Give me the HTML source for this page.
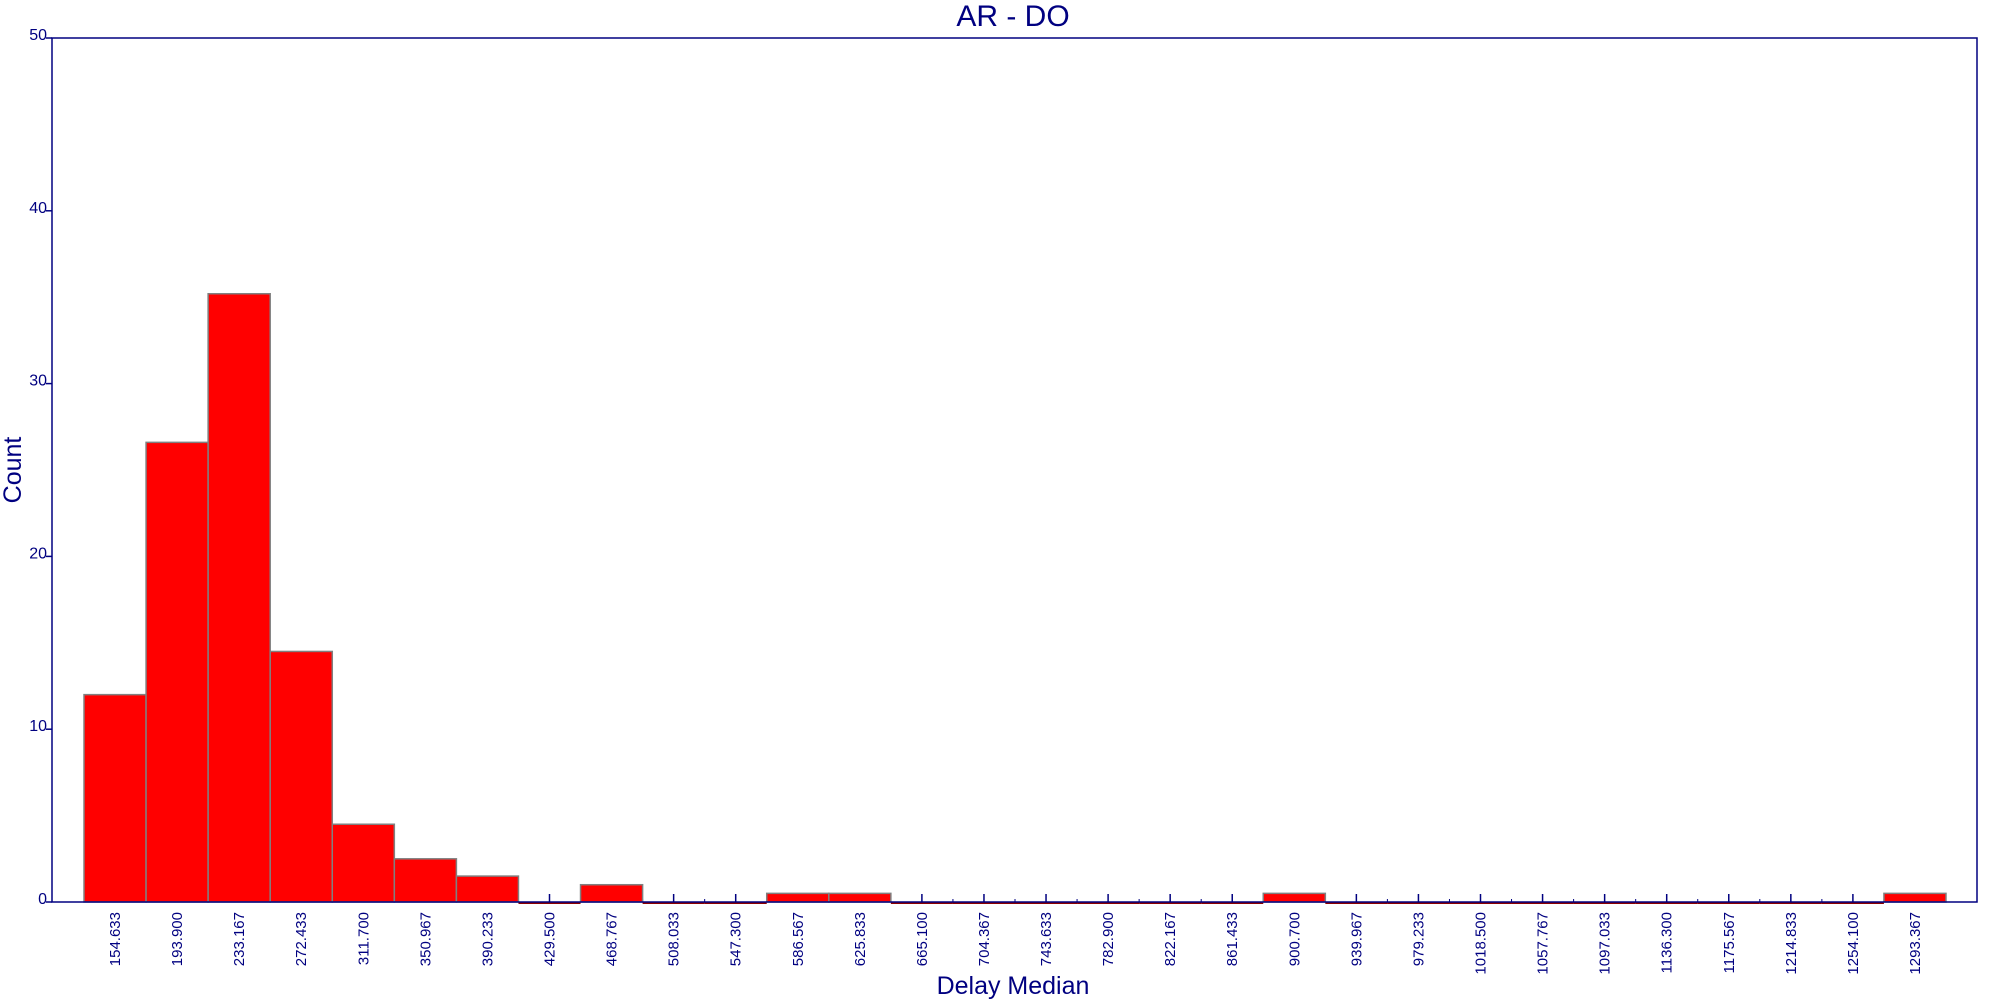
<!DOCTYPE html>
<html><head><meta charset="utf-8"><style>
html,body{margin:0;padding:0;background:#fff;}
svg{display:block;font-family:"Liberation Sans",Arial,sans-serif;}
</style></head><body>
<svg id="chart" width="2000" height="1000" viewBox="0 0 2000 1000" xmlns="http://www.w3.org/2000/svg">
<text x="1013" y="26" font-size="30" fill="#000080" text-anchor="middle">AR - DO</text>
<text transform="translate(21,470) rotate(-90)" font-size="25" fill="#000080" text-anchor="middle">Count</text>
<text x="1013" y="994" font-size="25" fill="#000080" text-anchor="middle">Delay Median</text>
<g id="axes"></g>
<g id="bars"></g>
<rect x="52" y="38" width="1925" height="864" fill="none" stroke="#000080" stroke-width="1.5"/>
</svg>
<script>
const binLabels = ["154.633","193.900","233.167","272.433","311.700","350.967","390.233","429.500","468.767","508.033","547.300","586.567","625.833","665.100","704.367","743.633","782.900","822.167","861.433","900.700","939.967","979.233","1018.500","1057.767","1097.033","1136.300","1175.567","1214.833","1254.100","1293.367"];
const counts = [12,26.6,35.2,14.5,4.5,2.5,1.5,0,1,0,0,0.5,0.5,0,0,0,0,0,0,0.5,0,0,0,0,0,0,0,0,0,0.5];
const yTicks = [0,10,20,30,40,50];

const NS="http://www.w3.org/2000/svg";
const L=52,R=1977,T=38,B=902,yMax=50;
const x0=84,x1=1946;
const bw=(x1-x0)/binLabels.length;
const xs=i=>x0+i*bw;
const ys=v=>B-(v/yMax)*(B-T);
function mk(tag,attrs,parent){const e=document.createElementNS(NS,tag);for(const k in attrs)e.setAttribute(k,attrs[k]);parent.appendChild(e);return e;}
const gb=document.getElementById('bars'),ga=document.getElementById('axes');
counts.forEach((c,i)=>{
  if(c>0){
    const r=mk('rect',{x:xs(i),y:ys(c),width:bw,height:B-ys(c),fill:'#ff0000',stroke:'#808080','stroke-width':1.5},gb);
    
    
  } else {
    const l=mk('line',{x1:xs(i),x2:xs(i+1),y1:B+1,y2:B+1,stroke:'#8b0000','stroke-width':2},gb);
    
    
  }
});
binLabels.forEach((lab,i)=>{
  const cx=xs(i)+bw/2;
  const t=mk('line',{x1:cx,x2:cx,y1:B,y2:B-8,stroke:'#000080','stroke-width':1.5},ga);
  
  
  const m=mk('line',{x1:xs(i),x2:xs(i),y1:B,y2:B-3,stroke:'#000080','stroke-width':1},ga);
  
  
  const tx=mk('text',{transform:`translate(${cx+5},${B+10}) rotate(-90)`,'font-size':15,fill:'#000080','text-anchor':'end'},ga);
  tx.textContent=lab;
  
  
});
yTicks.forEach(v=>{
  const y=ys(v);
  const t=mk('line',{x1:L-6,x2:L,y1:y,y2:y,stroke:'#000080','stroke-width':1.5},ga);
  
  
  const tx=mk('text',{x:L-5,y:y+2,'font-size':16,fill:'#000080','text-anchor':'end'},ga);
  tx.textContent=v;
  
  
});
</script>
</body></html>
